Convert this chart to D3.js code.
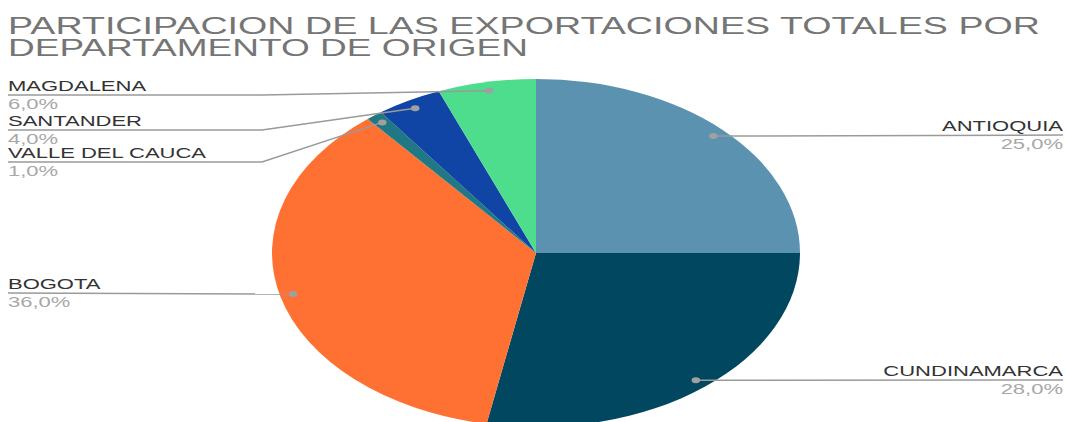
<!DOCTYPE html>
<html>
<head>
<meta charset="utf-8">
<script src="https://cdn.jsdelivr.net/npm/d3@7"></script>
<style>
  body { margin: 0; background: #fff; }
  svg { display: block; font-family: "Liberation Sans", Arial, sans-serif; }
</style>
</head>
<body>
<div id="chart"></div>
<script>
// Chart data
const titleLines = ['PARTICIPACION DE LAS EXPORTACIONES TOTALES POR', 'DEPARTAMENTO DE ORIGEN'];
const departments = ['ANTIOQUIA', 'CUNDINAMARCA', 'BOGOTA', 'VALLE DEL CAUCA', 'SANTANDER', 'MAGDALENA'];
const shares = [25, 28, 36, 1, 4, 6];
const sliceColors = ['#5a92b0', '#01475f', '#ff7033', '#1f7884', '#1045a6', '#4edd8d'];

const W = 1066, H = 422;
const cx = 536, cy = 253;
const r = 174;           // vertical radius
const sx = 264 / 174;    // horizontal stretch of the whole picture

// label line y positions (where the leader line runs under the text)
const labelLineY = { 'ANTIOQUIA': 135, 'CUNDINAMARCA': 380, 'BOGOTA': 293, 'VALLE DEL CAUCA': 162, 'SANTANDER': 130, 'MAGDALENA': 95 };
const titleWidths = [1032, 520];

const svg = d3.select('#chart').append('svg')
    .attr('width', W)
    .attr('height', H);

// Title
const title = svg.append('g').attr('transform', `scale(${sx},1)`);
titleLines.forEach((t, i) => {
    title.append('text')
        .attr('x', 8 / sx)
        .attr('y', 34 + i * 22)
        .attr('textLength', titleWidths[i] / sx)
        .attr('lengthAdjust', 'spacingAndGlyphs')
        .style('font-size', '24px')
        .style('fill', '#757575')
        .text(t);
});

// Pie
const data = departments.map((d, i) => ({ name: d, value: shares[i], color: sliceColors[i] }));
const pie = d3.pie().value(d => d.value).sort(null);
const arcs = pie(data);

const arc = d3.arc().innerRadius(0).outerRadius(r);
const dotArc = d3.arc().innerRadius(r * 0.95).outerRadius(r * 0.95);

const pieG = svg.append('g')
    .attr('transform', `translate(${cx},${cy}) scale(${sx},1)`);

pieG.selectAll('path')
    .data(arcs)
    .enter()
    .append('path')
    .attr('d', arc)
    .attr('fill', d => d.data.color);

// Leader lines and dots
const kinkX = 262;
arcs.forEach(a => {
    const c = dotArc.centroid(a);
    const px = cx + c[0] * sx;
    const py = cy + c[1];
    const ly = labelLineY[a.data.name];
    const right = c[0] > 0;

    let pts;
    if (right) {
        pts = [[px, py], [W - 3, ly]];
    } else if (Math.abs(py - ly) < 2) {
        pts = [[8, ly], [px, py]];
    } else {
        pts = [[8, ly], [kinkX, ly], [px, py]];
    }

    svg.append('path')
        .attr('d', d3.line()(pts))
        .attr('fill', 'none')
        .attr('stroke', '#9a9a9a')
        .attr('stroke-width', 1.5);

    svg.append('ellipse')
        .attr('cx', px)
        .attr('cy', py)
        .attr('rx', 3.5 * sx * 0.8)
        .attr('ry', 3)
        .attr('fill', '#a0a0a0');

    const tg = svg.append('g').attr('transform', `scale(${sx},1)`);
    const tx = right ? (W - 3) / sx : 8 / sx;
    const anchor = right ? 'end' : 'start';

    tg.append('text')
        .attr('x', tx)
        .attr('y', ly - 4)
        .attr('text-anchor', anchor)
        .style('font-size', '14.5px')
        .style('fill', '#333333')
        .text(a.data.name);

    tg.append('text')
        .attr('x', tx)
        .attr('y', ly + 14)
        .attr('text-anchor', anchor)
        .style('font-size', '14.5px')
        .style('fill', '#a8a8a8')
        .text(a.data.value.toFixed(1).replace('.', ',') + '%');
});
</script>
</body>
</html>
